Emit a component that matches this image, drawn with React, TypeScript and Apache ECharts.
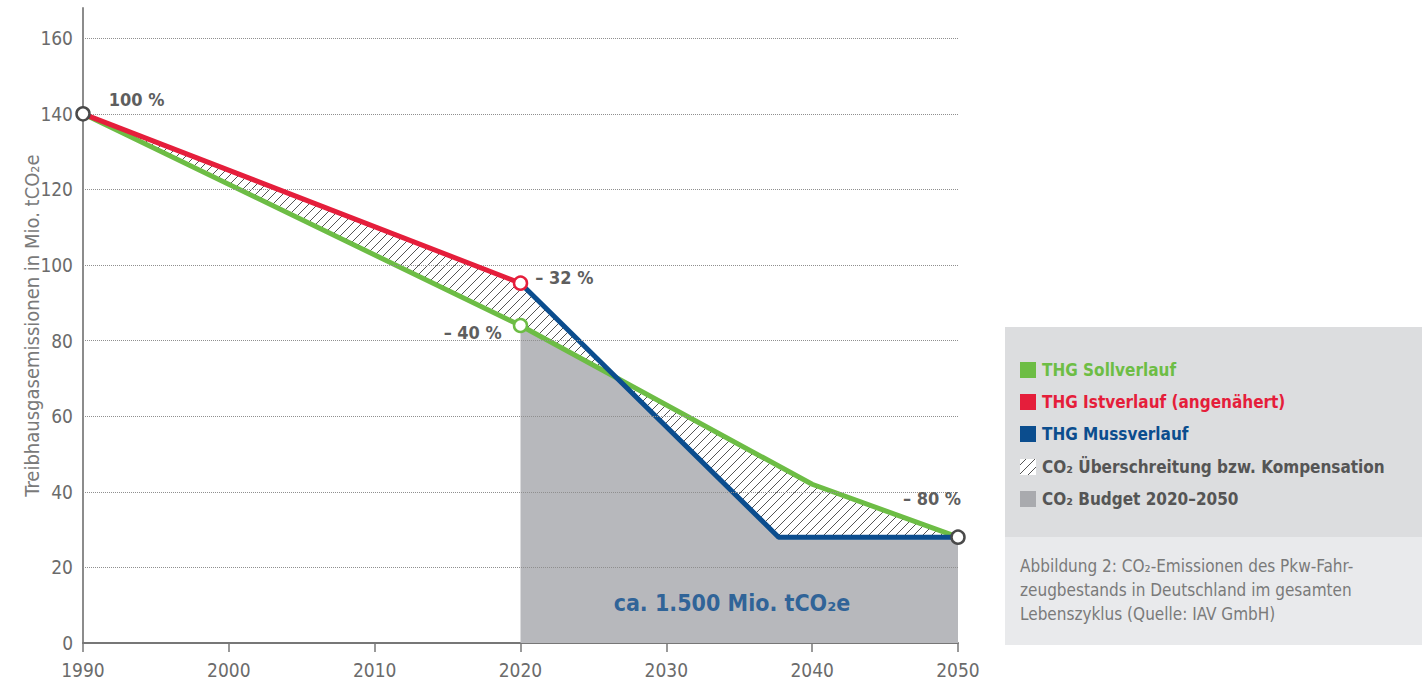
import React, { useEffect, useRef } from "react";
import * as echarts from "echarts";

// ---------- data ----------
const xTicks = [1990, 2000, 2010, 2020, 2030, 2040, 2050];
const yTicks = [20, 40, 60, 80, 100, 120, 140, 160];
const sollYears = [1990, 2020, 2040, 2050];
const sollValues = [140, 84, 42, 28];
const istYears = [1990, 2020];
const istValues = [140, 95.2];
const mussYears = [2020, 2037.7, 2050];
const mussValues = [95.2, 28, 28];
const markerYears = [1990, 2020, 2020, 2050];
const markerValues = [140, 95.2, 84, 28];
const markerLabels = ["100 %", "– 32 %", "– 40 %", "– 80 %"];
const budgetStart = 2020;
const budgetLabel = "ca. 1.500 Mio. tCO₂e";
const budgetLabelPos = [2034.5, 10.6];
const yAxisTitle = "Treibhausgasemissionen in Mio. tCO₂e";
const legendNames = [
  "THG Sollverlauf",
  "THG Istverlauf (angenähert)",
  "THG Mussverlauf",
  "CO₂ Überschreitung bzw. Kompensation",
  "CO₂ Budget 2020–2050",
];
const captionLines = [
  "Abbildung 2: CO₂-Emissionen des Pkw-Fahr-",
  "zeugbestands in Deutschland im gesamten",
  "Lebenszyklus (Quelle: IAV GmbH)",
];

// ---------- styles ----------
const GREEN = "#6dbd45";
const RED = "#e51e3b";
const BLUE = "#0b4d8e";
const BUDGET = "#b7b8bc";
const TXT = "#6b6b6b";
const LBL = "#5e5e5e";
const DARK = "#4a4a4a";
const FONT = "'Liberation Sans Narrow', 'DejaVu Sans Condensed', 'Roboto', sans-serif";

const pts = (xs: number[], ys: number[]) => xs.map((x, i) => [x, ys[i]]);

function makeHatch(bg: string | null) {
  const c = document.createElement("canvas");
  c.width = 9;
  c.height = 9;
  const ctx = c.getContext("2d")!;
  if (bg) {
    ctx.fillStyle = bg;
    ctx.fillRect(0, 0, 9, 9);
  }
  ctx.strokeStyle = "#555";
  ctx.lineWidth = 1;
  ctx.beginPath();
  ctx.moveTo(0, 9);
  ctx.lineTo(9, 0);
  ctx.moveTo(-1, 1);
  ctx.lineTo(1, -1);
  ctx.moveTo(8, 10);
  ctx.lineTo(10, 8);
  ctx.stroke();
  return { image: c, repeat: "repeat", imageWidth: 9, imageHeight: 9 } as any;
}

export default function App() {
  const ref = useRef<HTMLDivElement>(null);
  useEffect(() => {
    document.body.style.margin = "0";
    const chart = echarts.init(ref.current!, null, { renderer: "svg" });
    const hatch = makeHatch(null);
    const hatchLegend = makeHatch("#ffffff");

    const soll = pts(sollYears, sollValues);
    const ist = pts(istYears, istValues);
    const muss = pts(mussYears, mussValues);
    const sollBefore = soll.filter((p) => p[0] <= budgetStart);
    const sollAfter = soll.filter((p) => p[0] >= budgetStart);

    const polys: { p: number[][]; fill: any }[] = [
      {
        p: [[budgetStart, 0], ...sollAfter, [sollAfter[sollAfter.length - 1][0], 0]],
        fill: BUDGET,
      },
      { p: [...muss, ...sollAfter.slice().reverse()], fill: "#ffffff" },
      { p: [...muss, ...sollAfter.slice().reverse()], fill: hatch },
      { p: [...ist, ...sollBefore.slice().reverse()], fill: hatch },
    ];

    const markerColors = [DARK, RED, GREEN, DARK];
    const labelCfg = [
      { position: "right", offset: [13, -14] },
      { position: "right", offset: [2, -6] },
      { position: "left", offset: [-6, 7] },
      { position: "top", offset: [-26, -17] },
    ];

    const legendColors = [GREEN, RED, BLUE, hatchLegend, "#a9aaae"];
    const legendTextColors = [GREEN, RED, BLUE, "#555555", "#555555"];
    const legendY = [370, 402, 434, 467, 499];

    const graphics: any[] = [
      { type: "rect", shape: { x: 1005, y: 327, width: 417, height: 210 }, style: { fill: "#dcdddf" } },
      { type: "rect", shape: { x: 1005, y: 537, width: 417, height: 108 }, style: { fill: "#e9eaec" } },
    ];
    legendNames.forEach((n, i) => {
      graphics.push({
        type: "rect",
        shape: { x: 1020, y: legendY[i] - 8, width: 16, height: 16 },
        style: { fill: legendColors[i] },
      });
      graphics.push({
        type: "text",
        x: 1042,
        y: legendY[i],
        style: {
          text: n,
          fill: legendTextColors[i],
          font: `600 17px ${FONT}`,
          verticalAlign: "middle",
        },
      });
    });
    captionLines.forEach((t, i) => {
      graphics.push({
        type: "text",
        x: 1020,
        y: 566 + i * 24,
        style: { text: t, fill: "#7a7a7a", font: `17px ${FONT}`, verticalAlign: "middle" },
      });
    });

    chart.setOption({
      animation: false,
      grid: { left: 83, right: 466, top: 8, bottom: 36, containLabel: false },
      xAxis: {
        type: "value",
        min: xTicks[0],
        max: xTicks[xTicks.length - 1],
        interval: 10,
        axisLine: { lineStyle: { color: "#777", width: 2 } },
        axisTick: { show: true, length: 9, lineStyle: { color: "#777", width: 1.5 } },
        axisLabel: { color: TXT, fontSize: 19, fontFamily: FONT, margin: 17, formatter: (v: number) => String(v) },
        splitLine: { show: false },
      },
      yAxis: {
        type: "value",
        min: 0,
        max: 168,
        interval: 20,
        name: yAxisTitle,
        nameLocation: "middle",
        nameGap: 41,
        nameMoveOverlap: false,
        nameTextStyle: { color: "#7a7a7a", fontSize: 20, fontFamily: FONT },
        axisLine: { show: true, lineStyle: { color: "#8c8c8c", width: 2 } },
        axisTick: { show: false },
        axisLabel: { color: TXT, fontSize: 19, fontFamily: FONT, margin: 10, showMaxLabel: false },
        splitLine: { show: false },
      },
      graphic: graphics,
      series: [
        {
          type: "line",
          data: [],
          z: 1,
          markLine: {
            silent: true,
            symbol: "none",
            label: { show: false },
            lineStyle: { type: "dotted", color: "#8f8f8f", width: 1 },
            data: yTicks.map((v) => ({ yAxis: v })),
          },
        },
        {
          type: "custom",
          z: 2,
          silent: true,
          data: polys.map((_, i) => i),
          renderItem: (params: any, api: any) => {
            const poly = polys[params.dataIndex];
            return {
              type: "polygon",
              shape: { points: poly.p.map((q) => api.coord(q)) },
              style: { fill: poly.fill, stroke: "none" },
            };
          },
        },
        { type: "line", z: 4, data: soll, symbol: "none", lineStyle: { color: GREEN, width: 5 } },
        { type: "line", z: 4, data: muss, symbol: "none", lineStyle: { color: BLUE, width: 5 } },
        { type: "line", z: 5, data: ist, symbol: "none", lineStyle: { color: RED, width: 5 } },
        {
          type: "scatter",
          z: 6,
          symbol: "circle",
          symbolSize: 13,
          data: markerYears.map((x, i) => ({
            value: [x, markerValues[i]],
            itemStyle: { color: "#fff", borderColor: markerColors[i], borderWidth: 2.5, opacity: 1 },
            label: {
              show: true,
              formatter: markerLabels[i],
              position: labelCfg[i].position,
              offset: labelCfg[i].offset,
              color: LBL,
              fontSize: 18,
              fontWeight: 600,
              fontFamily: FONT,
            },
          })),
        },
        {
          type: "scatter",
          z: 6,
          symbolSize: 0,
          silent: true,
          data: [
            {
              value: budgetLabelPos,
              label: {
                show: true,
                position: "inside",
                formatter: budgetLabel,
                color: BLUE,
                fontSize: 23,
                fontWeight: 700,
                fontFamily: FONT,
              },
            },
          ],
        },
      ],
    });
    return () => chart.dispose();
  }, []);
  return <div ref={ref} style={{ width: 1424, height: 679 }} />;
}
